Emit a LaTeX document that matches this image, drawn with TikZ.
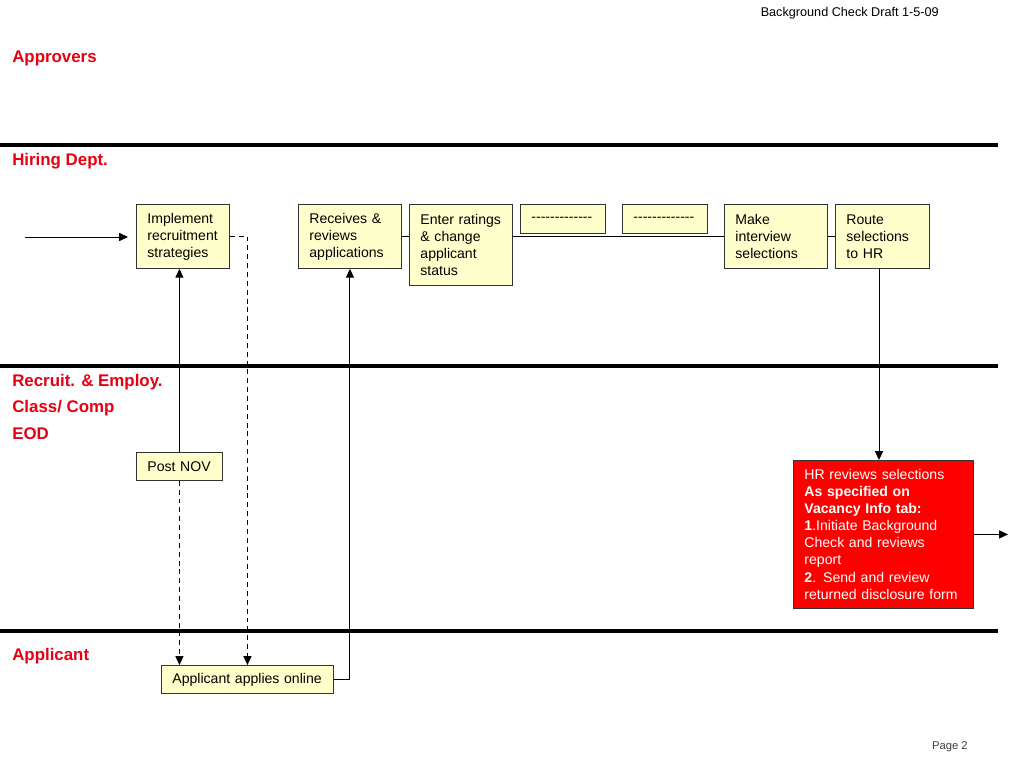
\documentclass[tikz,border=0pt]{standalone}
\usepackage{fontspec}
\setmainfont[Ligatures=TeXOff]{Liberation Sans}
\usetikzlibrary{arrows.meta,positioning}
\definecolor{lanered}{RGB}{230,0,18}
\definecolor{boxyellow}{RGB}{255,255,204}

\begin{document}
\begin{tikzpicture}[x=0.025cm,y=-0.025cm,
  stepbox/.style={draw=black!80,fill=boxyellow,anchor=north west,inner xsep=0.275cm,inner ysep=0pt,
    align=left,font=\fontsize{10}{12.1}\selectfont,line width=0.6pt},
  lanename/.style={anchor=west,text=lanered,font=\fontsize{12}{14}\selectfont\bfseries,inner sep=0pt},
  lane/.style={line width=2.8pt},
  flow/.style={-{Triangle[length=0.22cm,width=0.2cm]},line width=0.7pt},
  dashflow/.style={flow,dash pattern=on 3.5pt off 2.8pt}]
\useasboundingbox (0,0) rectangle (1024,768);

\node[anchor=east,inner sep=0pt,font=\fontsize{9}{11}\selectfont] (hdr) at (939,13) {Background Check Draft 1-5-09};
\node[anchor=east,inner sep=0pt,text=black!75,font=\fontsize{8}{10}\selectfont] (pg) at (968,747) {Page 2};

\draw[lane] (0,145) -- (998,145);
\draw[lane] (0,366) -- (998,366);
\draw[lane] (0,631) -- (998,631);

\node[lanename] (appr) at (12,58) {Approvers};
\node[lanename] (hire) at (12,161) {Hiring Dept.};
\node[lanename] (recr) at (12,382) {Recruit. \& Employ.};
\node[lanename] (comp) at (12,408) {Class/ Comp};
\node[lanename] (eod) at (12,434) {EOD};
\node[lanename] (appl) at (12,656) {Applicant};

\node[stepbox,text width=1.775cm,minimum height=1.6cm] (impl) at (136,204) {Implement\\recruitment\\strategies};
\node[stepbox,text width=2.025cm,minimum height=1.6cm] (recv) at (298,204) {Receives \&\\reviews\\applications};
\node[stepbox,text width=2.025cm,minimum height=2.025cm] (rate) at (409,204) {Enter ratings\\\& change\\applicant\\status};
\node[stepbox,text width=1.575cm,minimum height=0.725cm] (gapa) at (520,204) {-------------};
\node[stepbox,text width=1.575cm,minimum height=0.725cm] (gapb) at (622,204) {-------------};
\node[stepbox,text width=2.025cm,minimum height=1.6cm] (make) at (724,204) {Make\\interview\\selections};
\node[stepbox,text width=1.8cm,minimum height=1.6cm] (route) at (835,204) {Route\\selections\\to HR};
\node[stepbox,text width=1.6cm,minimum height=0.7cm] (post) at (136,452) {Post NOV};
\node[stepbox,text width=3.75cm,minimum height=0.7cm] (apply) at (161,665) {Applicant applies online};
\node[stepbox,fill=red,text=white,text width=3.95cm,minimum height=3.7cm] (hrrev) at (793,460)
  {HR reviews selections\\\textbf{As specified on}\\\textbf{Vacancy Info tab:}\\\textbf{1}.Initiate Background\\Check and reviews\\report\\\textbf{2}. Send and review\\returned disclosure form};

\coordinate (entry) at (25,237);
\coordinate (exit) at (1008,0);
\coordinate (drop) at (879,0);

\draw[flow,shorten >=0.2cm] (entry) -- (entry -| impl.west);
\draw[dashflow] (impl.east) -| (apply.north);
\draw[flow] (post.north) -- (post.north |- impl.south);
\draw[dashflow] (post.south) -- (post.south |- apply.north);
\draw[flow] (apply.east) -| (recv.south);
\draw[line width=0.7pt] (recv.east) -- (recv.east -| rate.west);
\draw[line width=0.7pt] (rate.east |- make.west) -- (make.west);
\draw[line width=0.7pt] (make.east) -- (route.west);
\draw[flow] (drop |- route.south) -- (drop |- hrrev.north);
\draw[flow] (hrrev.east) -- (hrrev.east -| exit);
\end{tikzpicture}
\end{document}
